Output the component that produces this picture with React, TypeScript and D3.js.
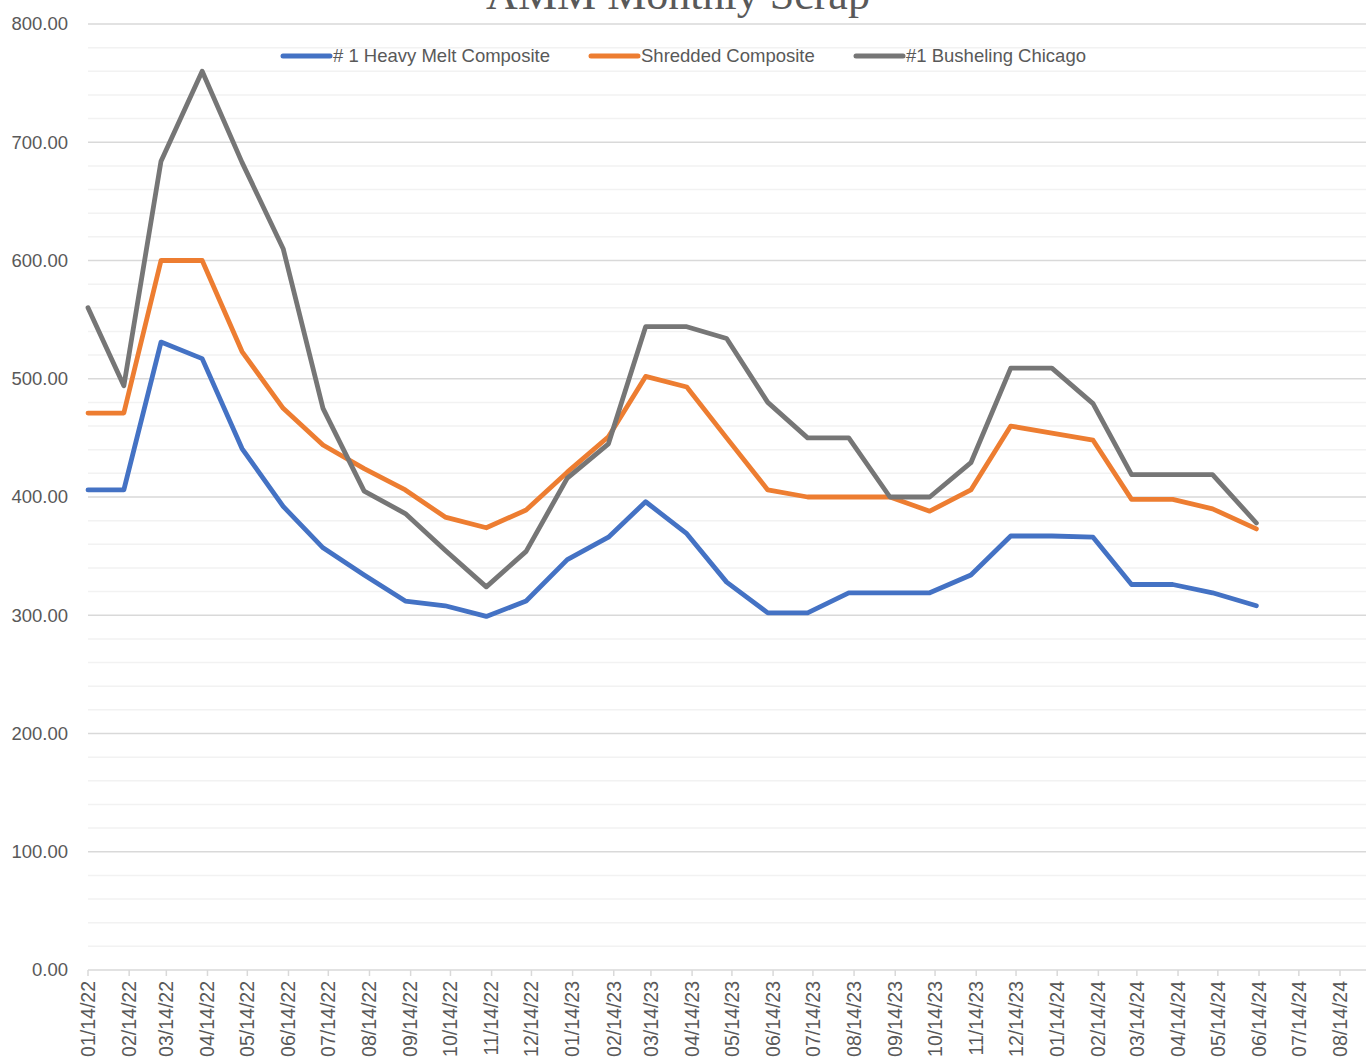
import React, { useRef, useEffect } from 'react';
import * as d3 from 'd3';

const title = 'AMM Monthly Scrap';

// first reading is 01/14/22, the rest come out around the 10th
const dates = [
    '2022-01-14', '2022-02-10', '2022-03-10', '2022-04-10', '2022-05-10', '2022-06-10',
    '2022-07-10', '2022-08-10', '2022-09-10', '2022-10-10', '2022-11-10', '2022-12-10',
    '2023-01-10', '2023-02-10', '2023-03-10', '2023-04-10', '2023-05-10', '2023-06-10',
    '2023-07-10', '2023-08-10', '2023-09-10', '2023-10-10', '2023-11-10', '2023-12-10',
    '2024-01-10', '2024-02-10', '2024-03-10', '2024-04-10', '2024-05-10', '2024-06-12',
];

const heavyMelt = [
    406, 406, 531, 517, 441, 392, 357, 334, 312, 308, 299, 312,
    347, 366, 396, 369, 328, 302, 302, 319, 319, 319, 334, 367,
    367, 366, 326, 326, 319, 308,
];

const shredded = [
    471, 471, 600, 600, 523, 475, 444, 424, 406, 383, 374, 389,
    421, 451, 502, 493, 450, 406, 400, 400, 400, 388, 406, 460,
    454, 448, 398, 398, 390, 373,
];

const busheling = [
    560, 494, 684, 760, 683, 610, 475, 405, 386, 355, 324, 354,
    416, 445, 544, 544, 534, 480, 450, 450, 400, 400, 429, 509,
    509, 479, 419, 419, 419, 378,
];

const seriesNames = ['# 1 Heavy Melt Composite', 'Shredded Composite', '#1 Busheling Chicago'];
const seriesColors = ['#4472C4', '#ED7D31', '#767676'];

const yTicks = [0, 100, 200, 300, 400, 500, 600, 700, 800];

const parse = d3.timeParse('%Y-%m-%d');

const App: React.FC = () => {
    const svgRef = useRef<SVGSVGElement>(null);

    useEffect(() => {
        if (!svgRef.current) return;

        const width = 1366;
        const height = 1063;
        const left = 88;
        const top = 24;
        const bottom = 970;

        d3.select(svgRef.current).selectAll('*').remove();

        const svg = d3.select(svgRef.current)
            .attr('width', width)
            .attr('height', height);

        svg.append('rect')
            .attr('width', width)
            .attr('height', height)
            .attr('fill', '#ffffff');

        const start = parse('2022-01-14')!;
        const x = d3.scaleTime()
            .domain([start, parse('2024-08-14')!])
            .range([left, 1340]);

        const y = d3.scaleLinear()
            .domain([0, 800])
            .range([bottom, top]);

        // minor gridlines every 20
        svg.append('g')
            .selectAll('line')
            .data(d3.range(20, 800, 20).filter(v => v % 100 !== 0))
            .enter()
            .append('line')
            .attr('x1', left)
            .attr('x2', width)
            .attr('y1', d => y(d))
            .attr('y2', d => y(d))
            .attr('stroke', '#f2f2f2')
            .attr('stroke-width', 1.5);

        // major gridlines
        svg.append('g')
            .selectAll('line')
            .data(yTicks)
            .enter()
            .append('line')
            .attr('x1', left)
            .attr('x2', width)
            .attr('y1', d => y(d))
            .attr('y2', d => y(d))
            .attr('stroke', '#d9d9d9')
            .attr('stroke-width', 1.5);

        svg.append('g')
            .selectAll('text')
            .data(yTicks)
            .enter()
            .append('text')
            .attr('x', 68)
            .attr('y', d => y(d))
            .attr('dy', '0.35em')
            .attr('text-anchor', 'end')
            .attr('fill', '#595959')
            .style('font-family', '"Liberation Sans", Arial, sans-serif')
            .style('font-size', '18.5px')
            .text(d => d3.format('.2f')(d));

        // x axis ticks on the 14th of each month
        const ticks = d3.timeMonth.range(d3.timeMonth.floor(start), parse('2024-09-01')!)
            .map(d => new Date(d.getFullYear(), d.getMonth(), 14));

        svg.append('g')
            .selectAll('line')
            .data(ticks)
            .enter()
            .append('line')
            .attr('x1', d => x(d))
            .attr('x2', d => x(d))
            .attr('y1', bottom)
            .attr('y2', bottom + 6)
            .attr('stroke', '#d9d9d9')
            .attr('stroke-width', 1.5);

        svg.append('g')
            .selectAll('text')
            .data(ticks)
            .enter()
            .append('text')
            .attr('transform', d => `translate(${x(d)},${bottom + 11}) rotate(-90)`)
            .attr('dy', '0.35em')
            .attr('text-anchor', 'end')
            .attr('fill', '#595959')
            .style('font-family', '"Liberation Sans", Arial, sans-serif')
            .style('font-size', '19.5px')
            .text(d => d3.timeFormat('%m/%d/%y')(d));

        // series lines
        const allSeries = [heavyMelt, shredded, busheling];
        const line = d3.line<number>()
            .x((d, i) => x(parse(dates[i])!))
            .y(d => y(d));

        allSeries.forEach((values, i) => {
            svg.append('path')
                .datum(values)
                .attr('d', line)
                .attr('fill', 'none')
                .attr('stroke', seriesColors[i])
                .attr('stroke-width', 4.8)
                .attr('stroke-linejoin', 'round')
                .attr('stroke-linecap', 'round');
        });

        // legend
        const legendX = [283, 591, 856];
        const legend = svg.append('g');
        seriesNames.forEach((name, i) => {
            legend.append('line')
                .attr('x1', legendX[i])
                .attr('x2', legendX[i] + 47)
                .attr('y1', 56)
                .attr('y2', 56)
                .attr('stroke', seriesColors[i])
                .attr('stroke-width', 5)
                .attr('stroke-linecap', 'round');
            legend.append('text')
                .attr('x', legendX[i] + 50)
                .attr('y', 56)
                .attr('dy', '0.35em')
                .attr('fill', '#595959')
                .style('font-family', '"Liberation Sans", Arial, sans-serif')
                .style('font-size', '18.5px')
                .text(name);
        });

        svg.append('text')
            .attr('x', 678)
            .attr('y', 9)
            .attr('text-anchor', 'middle')
            .attr('fill', '#595959')
            .style('font-family', '"Liberation Serif", "DejaVu Serif", serif')
            .style('font-size', '44px')
            .text(title);
    }, []);

    return (
        <svg ref={svgRef} style={{ position: 'absolute', left: 0, top: 0, display: 'block' }}></svg>
    );
};

export default App;
